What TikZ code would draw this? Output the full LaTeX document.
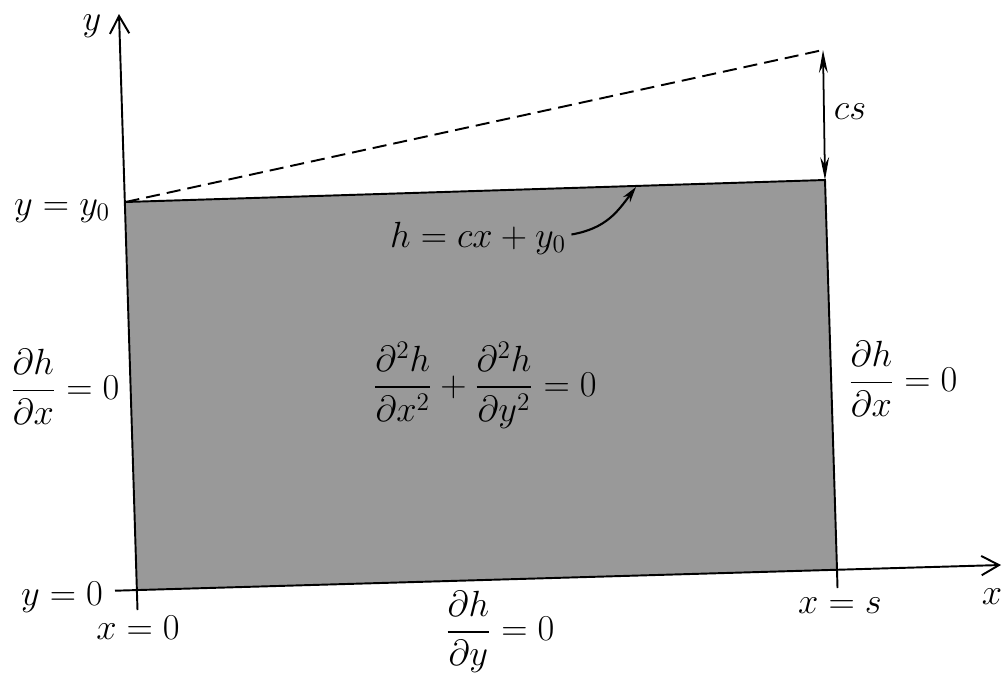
\documentclass[tikz,border=0pt]{standalone}
\usepackage{amsmath}
\usetikzlibrary{arrows.meta}
\begin{document}
\begin{tikzpicture}[x=0.02cm,y=-0.02cm,
  font=\fontsize{20}{24}\selectfont,
  axis/.style={line width=1.1pt,-{Straight Barb[length=10pt,width=11pt]}},
  edgeline/.style={line width=1.1pt},
  lbl/.style={inner sep=1pt},
  dim/.style={line width=1pt,{Stealth[length=13pt,width=5pt]}-{Stealth[length=13pt,width=5pt]}},
  pointer/.style={line width=1.2pt,-{Stealth[length=9pt,width=5pt]}}]
\useasboundingbox (0,0) rectangle (1003,676);
% corners of the region
\coordinate (TL) at (125.5,202);
\coordinate (TR) at (825,180);
\coordinate (BR) at (837,570);
\coordinate (BL) at (137,590);
\coordinate (P) at (823,50);
% axis ends
\coordinate (ybot) at (137.5,610);
\coordinate (ytip) at (119,14);
\coordinate (xleft) at (115,590.7);
\coordinate (xtip) at (1001,565);
\coordinate (rbot) at (837.5,588);
% region
\fill[black!40] (TL) -- (TR) -- (BR) -- (BL) -- cycle;
\draw[edgeline] (TL) -- (TR) -- (BR) -- (rbot);
\draw[axis] (ybot) -- (ytip);
\draw[axis] (xleft) -- (xtip);
\draw[edgeline,dashed,dash pattern=on 8pt off 4pt] (TL) -- (P);
\draw[dim] (P) -- (TR);
% labels
\node[lbl] (ylab) at (92,26) {$y$};
\node[lbl] (xlab) at (992,597) {$x$};
\node[lbl] (yy0) at (62,211) {$y = y_0$};
\node[lbl] (y0) at (62,597) {$y = 0$};
\node[lbl] (x0) at (138,628) {$x = 0$};
\node[lbl] (xs) at (840,606) {$x = s$};
\node[lbl] (cs) at (850,112) {$cs$};
\node[lbl] (hlab) at (478,238) {$h = cx + y_0$};
\node[lbl] (lap) at (485,385) {$\dfrac{\partial^2 h}{\partial x^2} + \dfrac{\partial^2 h}{\partial y^2} = 0$};
\node[lbl] (left) at (65,387) {$\dfrac{\partial h}{\partial x} = 0$};
\node[lbl] (right) at (903,379) {$\dfrac{\partial h}{\partial x} = 0$};
\node[lbl] (bottom) at (500,632) {$\dfrac{\partial h}{\partial y} = 0$};
\coordinate (htip) at (636,187);
\draw[pointer] ([xshift=2pt,yshift=2pt]hlab.east) .. controls +(35,-6) and +(-18,24) .. (htip);
\end{tikzpicture}
\end{document}
